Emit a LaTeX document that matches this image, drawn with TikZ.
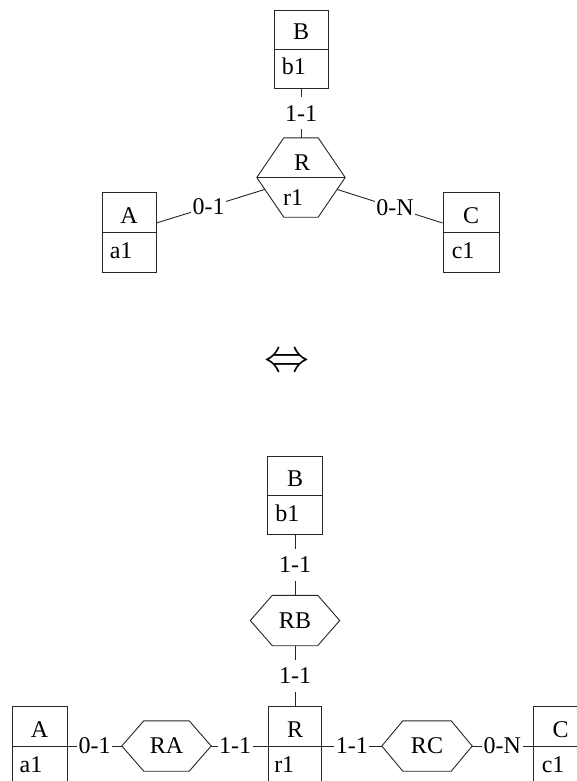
\documentclass[tikz,border=0pt]{standalone}
\usepackage{fontspec}
\setmainfont{Liberation Serif}
\usetikzlibrary{calc}
\tikzset{
  conn/.style={line width=0.9pt, draw=black!85},
  ent/.style={draw=black!85, line width=0.9pt, minimum width=55pt, minimum height=80pt, inner sep=0pt},
  hexbox/.style={minimum width=89pt, minimum height=50pt, inner sep=0pt},
  card/.style={fill=white, inner xsep=1.5pt, inner ysep=8pt},
  ttl/.style={anchor=base, inner sep=0pt},
  att/.style={anchor=base west, inner sep=0pt}
}
\newcommand\hexdraw[2]{\draw[conn] (#1.west) -- ([xshift=#2]#1.north west) -- ([xshift=-#2]#1.north east) -- (#1.east) -- ([xshift=-#2]#1.south east) -- ([xshift=#2]#1.south west) -- cycle;}
\begin{document}
\begin{tikzpicture}[x=1pt,y=-1pt,font=\fontsize{24}{28}\selectfont]
\fill[white] (0,0) rectangle (577,781);
\useasboundingbox (0,0) rectangle (577,781);
\clip (0,0) rectangle (577,781);

% ---------- top diagram ----------
\node[ent, minimum width=54pt] (A1) at (129,232) {};
\draw[conn] (A1.west) -- (A1.east);
\node[ttl] (A1t) at ($(A1.center)+(0,-9)$) {A};
\node[att] (A1a) at ($(A1.west)+(8,26)$) {a1};

\node[ent, minimum width=54pt, minimum height=78pt] (B1) at (301,49) {};
\draw[conn] (B1.west) -- (B1.east);
\node[ttl] (B1t) at ($(B1.center)+(0,-9)$) {B};
\node[att] (B1a) at ($(B1.west)+(8,26)$) {b1};

\node[ent, minimum width=56pt] (C1) at (471,232) {};
\draw[conn] (C1.west) -- (C1.east);
\node[ttl] (C1t) at ($(C1.center)+(0,-9)$) {C};
\node[att] (C1a) at ($(C1.west)+(9,26)$) {c1};

\node[hexbox, minimum width=88pt, minimum height=79pt] (R1) at (301,177.5) {};
\hexdraw{R1}{27pt}
\draw[conn] (R1.west) -- (R1.east);
\node[ttl] (R1t) at (302,170) {R};
\node[att] (R1a) at (283,205) {r1};

\draw[conn] (B1) -- node[card] (c11) {1-1} (R1);
\draw[conn] ([yshift=9pt]A1.east) -- node[card, pos=0.48] (c12) {0-1} ($(R1.west)!0.3!([xshift=27pt]R1.south west)$);
\draw[conn] ($(R1.east)!0.3!([xshift=-27pt]R1.south east)$) -- node[card, pos=0.55] (c13) {0-N} ([yshift=9pt]C1.west);

% ---------- equivalence ----------
\node (eq) at (287,363) {\resizebox{45pt}{17pt}{$\Leftrightarrow$}};

% ---------- bottom diagram ----------
\node[ent, minimum height=78pt] (B2) at (295,495) {};
\draw[conn] (B2.west) -- (B2.east);
\node[ttl] (B2t) at ($(B2.center)+(0,-9)$) {B};
\node[att] (B2a) at ($(B2.west)+(8,26)$) {b1};

\node[hexbox] (RB) at (295,620.5) {RB};
\hexdraw{RB}{22pt}

\node[ent, minimum width=53pt] (R2) at (295,746) {};
\draw[conn] (R2.west) -- (R2.east);
\node[ttl] (R2t) at ($(R2.center)+(0,-9)$) {R};
\node[att] (R2a) at ($(R2.west)+(6,26)$) {r1};

\node[ent] (A2) at (39.5,746) {};
\draw[conn] (A2.west) -- (A2.east);
\node[ttl] (A2t) at ($(A2.center)+(0,-9)$) {A};
\node[att] (A2a) at ($(A2.west)+(8,26)$) {a1};

\node[hexbox] (RA) at (166.5,746) {RA};
\hexdraw{RA}{22pt}

\node[hexbox, minimum width=90pt] (RC) at (427,746) {RC};
\hexdraw{RC}{21pt}

\node[ent] (C2) at (560.5,746) {};
\draw[conn] (C2.west) -- (C2.east);
\node[ttl] (C2t) at ($(C2.center)+(0,-9)$) {C};
\node[att] (C2a) at ($(C2.west)+(9,26)$) {c1};

\draw[conn] (B2) -- node[card] (c21) {1-1} (RB);
\draw[conn] (RB) -- node[card] (c22) {1-1} (R2);
\draw[conn] (A2) -- node[card] (c23) {0-1} (RA);
\draw[conn] (RA) -- node[card, pos=0.42] (c24) {1-1} (R2);
\draw[conn] (R2) -- node[card] (c25) {1-1} (RC);
\draw[conn] (RC) -- node[card] (c26) {0-N} (C2);
\end{tikzpicture}
\end{document}
